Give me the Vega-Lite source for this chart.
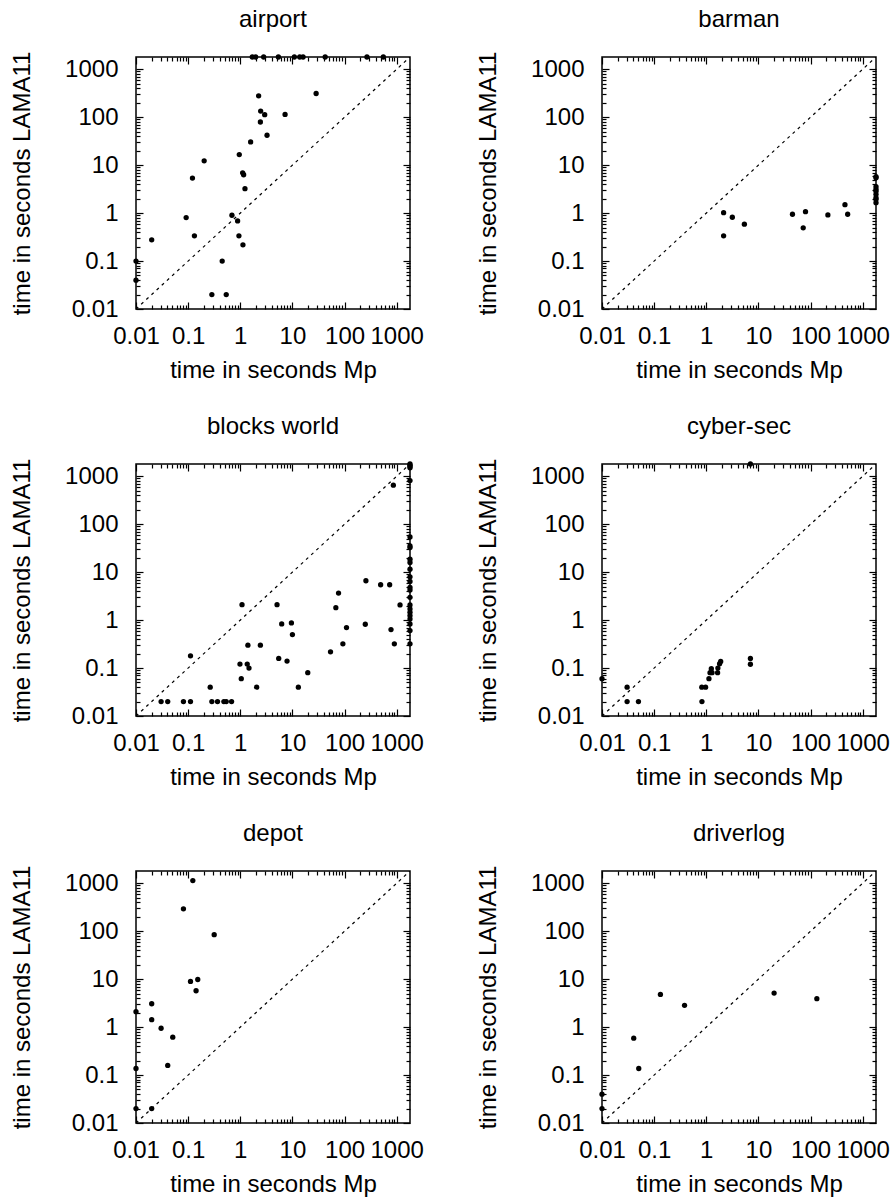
{
  "$schema": "https://vega.github.io/schema/vega-lite/v6.json",
  "background": "white",
  "padding": {"left": 9, "top": 7, "right": 5, "bottom": 5},
  "config": {
    "font": "Liberation Sans",
    "view": {"stroke": "black", "strokeWidth": 1.5},
    "axis": {"labelFont": "Liberation Sans", "titleFont": "Liberation Sans", "labelFontSize": 24, "titleFontSize": 24, "titleFontWeight": "normal", "labelColor": "black", "titleColor": "black", "tickColor": "black", "tickWidth": 1.2, "domain": false, "grid": false, "labelOverlap": false, "labelFlush": false, "labelBound": false},
    "title": {"font": "Liberation Sans", "fontSize": 24, "fontWeight": "normal", "color": "black", "offset": 19}
  },
  "datasets": {
    "diag": [{"v": 0.01}, {"v": 1800}],
    "pts": [
      {"d": "airport", "mp": 1.70, "lama": 1800}, {"d": "airport", "mp": 1.97, "lama": 1800}, {"d": "airport", "mp": 2.81, "lama": 1800}, {"d": "airport", "mp": 5.38, "lama": 1800}, {"d": "airport", "mp": 10.9, "lama": 1800}, {"d": "airport", "mp": 13.8, "lama": 1800}, {"d": "airport", "mp": 16.0, "lama": 1800}, {"d": "airport", "mp": 42.5, "lama": 1800}, {"d": "airport", "mp": 269, "lama": 1800}, {"d": "airport", "mp": 554, "lama": 1800},
      {"d": "airport", "mp": 2.25, "lama": 279}, {"d": "airport", "mp": 28.5, "lama": 312}, {"d": "airport", "mp": 2.46, "lama": 134}, {"d": "airport", "mp": 2.94, "lama": 113}, {"d": "airport", "mp": 7.23, "lama": 114}, {"d": "airport", "mp": 2.43, "lama": 79.4}, {"d": "airport", "mp": 3.26, "lama": 42}, {"d": "airport", "mp": 1.58, "lama": 30.5}, {"d": "airport", "mp": 0.957, "lama": 16.6}, {"d": "airport", "mp": 0.203, "lama": 12.3}, {"d": "airport", "mp": 0.121, "lama": 5.37}, {"d": "airport", "mp": 1.11, "lama": 6.93}, {"d": "airport", "mp": 1.16, "lama": 6.3}, {"d": "airport", "mp": 1.23, "lama": 3.23}, {"d": "airport", "mp": 0.0916, "lama": 0.807}, {"d": "airport", "mp": 0.692, "lama": 0.902}, {"d": "airport", "mp": 0.889, "lama": 0.688}, {"d": "airport", "mp": 0.02, "lama": 0.277}, {"d": "airport", "mp": 0.132, "lama": 0.336}, {"d": "airport", "mp": 0.942, "lama": 0.336}, {"d": "airport", "mp": 1.125, "lama": 0.218}, {"d": "airport", "mp": 0.01, "lama": 0.1}, {"d": "airport", "mp": 0.01, "lama": 0.04}, {"d": "airport", "mp": 0.45, "lama": 0.1}, {"d": "airport", "mp": 0.285, "lama": 0.02}, {"d": "airport", "mp": 0.538, "lama": 0.02},
      {"d": "barman", "mp": 2.15, "lama": 1.02}, {"d": "barman", "mp": 2.15, "lama": 0.336}, {"d": "barman", "mp": 3.16, "lama": 0.819}, {"d": "barman", "mp": 5.38, "lama": 0.587}, {"d": "barman", "mp": 45, "lama": 0.946}, {"d": "barman", "mp": 80, "lama": 1.07}, {"d": "barman", "mp": 72.3, "lama": 0.492}, {"d": "barman", "mp": 215, "lama": 0.916}, {"d": "barman", "mp": 457, "lama": 1.5}, {"d": "barman", "mp": 515, "lama": 0.946},
      {"d": "barman", "mp": 1800, "lama": 5.73}, {"d": "barman", "mp": 1800, "lama": 5.46}, {"d": "barman", "mp": 1800, "lama": 3.55}, {"d": "barman", "mp": 1800, "lama": 3.13}, {"d": "barman", "mp": 1800, "lama": 2.84}, {"d": "barman", "mp": 1800, "lama": 2.46}, {"d": "barman", "mp": 1800, "lama": 2.1}, {"d": "barman", "mp": 1800, "lama": 1.94}, {"d": "barman", "mp": 1800, "lama": 1.65},
      {"d": "blocks world", "mp": 0.0303, "lama": 0.02}, {"d": "blocks world", "mp": 0.0406, "lama": 0.02}, {"d": "blocks world", "mp": 0.0813, "lama": 0.02}, {"d": "blocks world", "mp": 0.111, "lama": 0.02}, {"d": "blocks world", "mp": 0.285, "lama": 0.02}, {"d": "blocks world", "mp": 0.366, "lama": 0.02}, {"d": "blocks world", "mp": 0.485, "lama": 0.02}, {"d": "blocks world", "mp": 0.538, "lama": 0.02}, {"d": "blocks world", "mp": 0.681, "lama": 0.02},
      {"d": "blocks world", "mp": 0.265, "lama": 0.04}, {"d": "blocks world", "mp": 0.111, "lama": 0.18}, {"d": "blocks world", "mp": 1.045, "lama": 0.06}, {"d": "blocks world", "mp": 0.986, "lama": 0.121}, {"d": "blocks world", "mp": 1.36, "lama": 0.121}, {"d": "blocks world", "mp": 1.47, "lama": 0.1}, {"d": "blocks world", "mp": 2.06, "lama": 0.04}, {"d": "blocks world", "mp": 13, "lama": 0.04}, {"d": "blocks world", "mp": 19.7, "lama": 0.08}, {"d": "blocks world", "mp": 1.4, "lama": 0.3}, {"d": "blocks world", "mp": 2.43, "lama": 0.3}, {"d": "blocks world", "mp": 1.08, "lama": 2.1}, {"d": "blocks world", "mp": 5.07, "lama": 2.1}, {"d": "blocks world", "mp": 6.23, "lama": 0.832}, {"d": "blocks world", "mp": 9.57, "lama": 0.874}, {"d": "blocks world", "mp": 10, "lama": 0.5}, {"d": "blocks world", "mp": 5.46, "lama": 0.159}, {"d": "blocks world", "mp": 7.89, "lama": 0.14}, {"d": "blocks world", "mp": 53.8, "lama": 0.218}, {"d": "blocks world", "mp": 92.9, "lama": 0.32}, {"d": "blocks world", "mp": 109, "lama": 0.699}, {"d": "blocks world", "mp": 68.1, "lama": 1.82}, {"d": "blocks world", "mp": 76.7, "lama": 3.66}, {"d": "blocks world", "mp": 250, "lama": 0.819}, {"d": "blocks world", "mp": 257, "lama": 6.61}, {"d": "blocks world", "mp": 492, "lama": 5.46}, {"d": "blocks world", "mp": 733, "lama": 5.46}, {"d": "blocks world", "mp": 778, "lama": 0.635}, {"d": "blocks world", "mp": 902, "lama": 0.32}, {"d": "blocks world", "mp": 1159, "lama": 2.07}, {"d": "blocks world", "mp": 863, "lama": 650},
      {"d": "blocks world", "mp": 1800, "lama": 1800}, {"d": "blocks world", "mp": 1800, "lama": 1700}, {"d": "blocks world", "mp": 1800, "lama": 1600}, {"d": "blocks world", "mp": 1800, "lama": 1500}, {"d": "blocks world", "mp": 1800, "lama": 813}, {"d": "blocks world", "mp": 1800, "lama": 54.2}, {"d": "blocks world", "mp": 1800, "lama": 35.2}, {"d": "blocks world", "mp": 1800, "lama": 32.5}, {"d": "blocks world", "mp": 1800, "lama": 18.6}, {"d": "blocks world", "mp": 1800, "lama": 15.9}, {"d": "blocks world", "mp": 1800, "lama": 11.5}, {"d": "blocks world", "mp": 1800, "lama": 8.0}, {"d": "blocks world", "mp": 1800, "lama": 6.4}, {"d": "blocks world", "mp": 1800, "lama": 4.81}, {"d": "blocks world", "mp": 1800, "lama": 4.23}, {"d": "blocks world", "mp": 1800, "lama": 2.98}, {"d": "blocks world", "mp": 1800, "lama": 2.07}, {"d": "blocks world", "mp": 1800, "lama": 1.71}, {"d": "blocks world", "mp": 1800, "lama": 1.45}, {"d": "blocks world", "mp": 1800, "lama": 1.24}, {"d": "blocks world", "mp": 1800, "lama": 1.06}, {"d": "blocks world", "mp": 1800, "lama": 0.83}, {"d": "blocks world", "mp": 1800, "lama": 0.605}, {"d": "blocks world", "mp": 1800, "lama": 0.32},
      {"d": "cyber-sec", "mp": 7.02, "lama": 1800}, {"d": "cyber-sec", "mp": 0.01, "lama": 0.06}, {"d": "cyber-sec", "mp": 0.0303, "lama": 0.04}, {"d": "cyber-sec", "mp": 0.0303, "lama": 0.02}, {"d": "cyber-sec", "mp": 0.05, "lama": 0.02}, {"d": "cyber-sec", "mp": 0.826, "lama": 0.02}, {"d": "cyber-sec", "mp": 0.82, "lama": 0.04}, {"d": "cyber-sec", "mp": 0.971, "lama": 0.04}, {"d": "cyber-sec", "mp": 1.125, "lama": 0.06}, {"d": "cyber-sec", "mp": 1.18, "lama": 0.08}, {"d": "cyber-sec", "mp": 1.25, "lama": 0.097}, {"d": "cyber-sec", "mp": 1.29, "lama": 0.08}, {"d": "cyber-sec", "mp": 1.65, "lama": 0.08}, {"d": "cyber-sec", "mp": 1.67, "lama": 0.1}, {"d": "cyber-sec", "mp": 1.8, "lama": 0.123}, {"d": "cyber-sec", "mp": 1.89, "lama": 0.137}, {"d": "cyber-sec", "mp": 7.02, "lama": 0.12}, {"d": "cyber-sec", "mp": 7.02, "lama": 0.159},
      {"d": "depot", "mp": 0.01, "lama": 0.02}, {"d": "depot", "mp": 0.02, "lama": 0.02}, {"d": "depot", "mp": 0.01, "lama": 0.137}, {"d": "depot", "mp": 0.0406, "lama": 0.159}, {"d": "depot", "mp": 0.01, "lama": 2.1}, {"d": "depot", "mp": 0.02, "lama": 3.07}, {"d": "depot", "mp": 0.02, "lama": 1.43}, {"d": "depot", "mp": 0.0303, "lama": 0.946}, {"d": "depot", "mp": 0.0507, "lama": 0.615}, {"d": "depot", "mp": 0.111, "lama": 8.95}, {"d": "depot", "mp": 0.153, "lama": 9.84}, {"d": "depot", "mp": 0.142, "lama": 5.73}, {"d": "depot", "mp": 0.316, "lama": 84.6}, {"d": "depot", "mp": 0.0813, "lama": 293}, {"d": "depot", "mp": 0.123, "lama": 1136},
      {"d": "driverlog", "mp": 0.01, "lama": 0.02}, {"d": "driverlog", "mp": 0.01, "lama": 0.04}, {"d": "driverlog", "mp": 0.0406, "lama": 0.587}, {"d": "driverlog", "mp": 0.0507, "lama": 0.137}, {"d": "driverlog", "mp": 0.132, "lama": 4.81}, {"d": "driverlog", "mp": 0.383, "lama": 2.84}, {"d": "driverlog", "mp": 20, "lama": 5.12}, {"d": "driverlog", "mp": 132, "lama": 3.91}
    ]
  },
  "columns": 2,
  "spacing": {"row": 31, "column": 50},
  "concat": [
    {"title": "airport", "width": 274, "height": 252, "resolve": {"axis": {"x": "independent", "y": "independent"}},
     "layer": [
      {"data": {"name": "pts"}, "transform": [{"filter": "datum.d == 'airport'"}], "mark": {"type": "circle", "size": 28, "opacity": 1, "color": "black", "clip": false},
       "encoding": {
        "x": {"field": "mp", "type": "quantitative", "scale": {"type": "log", "domain": [0.01, 1800], "nice": false}, "axis": {"orient": "bottom", "title": "time in seconds Mp", "values": [0.01,0.1,1,10,100,1000], "labelExpr": "datum.value + ''", "ticks": false, "labelPadding": 15, "titlePadding": 10}},
        "y": {"field": "lama", "type": "quantitative", "scale": {"type": "log", "domain": [0.01, 1800], "nice": false}, "axis": {"orient": "left", "title": "time in seconds LAMA11", "values": [0.01,0.1,1,10,100,1000], "labelExpr": "datum.value + ''", "ticks": false, "labelPadding": 18, "titlePadding": 30}}
       }},
      {"data": {"name": "diag"}, "mark": {"type": "line", "color": "black", "strokeWidth": 1.2, "strokeDash": [3, 4], "clip": true},
       "encoding": {
        "x": {"field": "v", "type": "quantitative", "scale": {"type": "log", "domain": [0.01, 1800], "nice": false}, "axis": {"orient": "bottom", "title": null, "labels": false, "values": [0.01,0.1,1,10,100,1000], "tickSize": 7, "offset": -7}},
        "y": {"field": "v", "type": "quantitative", "scale": {"type": "log", "domain": [0.01, 1800], "nice": false}, "axis": {"orient": "left", "title": null, "labels": false, "values": [0.01,0.1,1,10,100,1000], "tickSize": 7, "offset": -7}}
       }},
      {"data": {"name": "diag"}, "mark": {"type": "line", "opacity": 0},
       "encoding": {
        "x": {"field": "v", "type": "quantitative", "scale": {"type": "log", "domain": [0.01, 1800], "nice": false}, "axis": {"orient": "top", "title": null, "labels": false, "values": [0.01,0.1,1,10,100,1000], "tickSize": 7, "offset": -7}},
        "y": {"field": "v", "type": "quantitative", "scale": {"type": "log", "domain": [0.01, 1800], "nice": false}, "axis": {"orient": "right", "title": null, "labels": false, "values": [0.01,0.1,1,10,100,1000], "tickSize": 7, "offset": -7}}
       }},
      {"data": {"name": "diag"}, "mark": {"type": "line", "opacity": 0},
       "encoding": {
        "x": {"field": "v", "type": "quantitative", "scale": {"type": "log", "domain": [0.01, 1800], "nice": false}, "axis": {"orient": "bottom", "title": null, "labels": false, "values": [0.02,0.03,0.04,0.05,0.06,0.07,0.08,0.09,0.2,0.3,0.4,0.5,0.6,0.7,0.8,0.9,2,3,4,5,6,7,8,9,20,30,40,50,60,70,80,90,200,300,400,500,600,700,800,900], "tickSize": 4, "offset": -4}},
        "y": {"field": "v", "type": "quantitative", "scale": {"type": "log", "domain": [0.01, 1800], "nice": false}, "axis": {"orient": "left", "title": null, "labels": false, "values": [0.02,0.03,0.04,0.05,0.06,0.07,0.08,0.09,0.2,0.3,0.4,0.5,0.6,0.7,0.8,0.9,2,3,4,5,6,7,8,9,20,30,40,50,60,70,80,90,200,300,400,500,600,700,800,900], "tickSize": 4, "offset": -4}}
       }},
      {"data": {"name": "diag"}, "mark": {"type": "line", "opacity": 0},
       "encoding": {
        "x": {"field": "v", "type": "quantitative", "scale": {"type": "log", "domain": [0.01, 1800], "nice": false}, "axis": {"orient": "top", "title": null, "labels": false, "values": [0.02,0.03,0.04,0.05,0.06,0.07,0.08,0.09,0.2,0.3,0.4,0.5,0.6,0.7,0.8,0.9,2,3,4,5,6,7,8,9,20,30,40,50,60,70,80,90,200,300,400,500,600,700,800,900], "tickSize": 4, "offset": -4}},
        "y": {"field": "v", "type": "quantitative", "scale": {"type": "log", "domain": [0.01, 1800], "nice": false}, "axis": {"orient": "right", "title": null, "labels": false, "values": [0.02,0.03,0.04,0.05,0.06,0.07,0.08,0.09,0.2,0.3,0.4,0.5,0.6,0.7,0.8,0.9,2,3,4,5,6,7,8,9,20,30,40,50,60,70,80,90,200,300,400,500,600,700,800,900], "tickSize": 4, "offset": -4}}
       }}
     ]},
    {"title": "barman", "width": 274, "height": 252, "resolve": {"axis": {"x": "independent", "y": "independent"}},
     "layer": [
      {"data": {"name": "pts"}, "transform": [{"filter": "datum.d == 'barman'"}], "mark": {"type": "circle", "size": 28, "opacity": 1, "color": "black", "clip": false},
       "encoding": {
        "x": {"field": "mp", "type": "quantitative", "scale": {"type": "log", "domain": [0.01, 1800], "nice": false}, "axis": {"orient": "bottom", "title": "time in seconds Mp", "values": [0.01,0.1,1,10,100,1000], "labelExpr": "datum.value + ''", "ticks": false, "labelPadding": 15, "titlePadding": 10}},
        "y": {"field": "lama", "type": "quantitative", "scale": {"type": "log", "domain": [0.01, 1800], "nice": false}, "axis": {"orient": "left", "title": "time in seconds LAMA11", "values": [0.01,0.1,1,10,100,1000], "labelExpr": "datum.value + ''", "ticks": false, "labelPadding": 18, "titlePadding": 30}}
       }},
      {"data": {"name": "diag"}, "mark": {"type": "line", "color": "black", "strokeWidth": 1.2, "strokeDash": [3, 4], "clip": true},
       "encoding": {
        "x": {"field": "v", "type": "quantitative", "scale": {"type": "log", "domain": [0.01, 1800], "nice": false}, "axis": {"orient": "bottom", "title": null, "labels": false, "values": [0.01,0.1,1,10,100,1000], "tickSize": 7, "offset": -7}},
        "y": {"field": "v", "type": "quantitative", "scale": {"type": "log", "domain": [0.01, 1800], "nice": false}, "axis": {"orient": "left", "title": null, "labels": false, "values": [0.01,0.1,1,10,100,1000], "tickSize": 7, "offset": -7}}
       }},
      {"data": {"name": "diag"}, "mark": {"type": "line", "opacity": 0},
       "encoding": {
        "x": {"field": "v", "type": "quantitative", "scale": {"type": "log", "domain": [0.01, 1800], "nice": false}, "axis": {"orient": "top", "title": null, "labels": false, "values": [0.01,0.1,1,10,100,1000], "tickSize": 7, "offset": -7}},
        "y": {"field": "v", "type": "quantitative", "scale": {"type": "log", "domain": [0.01, 1800], "nice": false}, "axis": {"orient": "right", "title": null, "labels": false, "values": [0.01,0.1,1,10,100,1000], "tickSize": 7, "offset": -7}}
       }},
      {"data": {"name": "diag"}, "mark": {"type": "line", "opacity": 0},
       "encoding": {
        "x": {"field": "v", "type": "quantitative", "scale": {"type": "log", "domain": [0.01, 1800], "nice": false}, "axis": {"orient": "bottom", "title": null, "labels": false, "values": [0.02,0.03,0.04,0.05,0.06,0.07,0.08,0.09,0.2,0.3,0.4,0.5,0.6,0.7,0.8,0.9,2,3,4,5,6,7,8,9,20,30,40,50,60,70,80,90,200,300,400,500,600,700,800,900], "tickSize": 4, "offset": -4}},
        "y": {"field": "v", "type": "quantitative", "scale": {"type": "log", "domain": [0.01, 1800], "nice": false}, "axis": {"orient": "left", "title": null, "labels": false, "values": [0.02,0.03,0.04,0.05,0.06,0.07,0.08,0.09,0.2,0.3,0.4,0.5,0.6,0.7,0.8,0.9,2,3,4,5,6,7,8,9,20,30,40,50,60,70,80,90,200,300,400,500,600,700,800,900], "tickSize": 4, "offset": -4}}
       }},
      {"data": {"name": "diag"}, "mark": {"type": "line", "opacity": 0},
       "encoding": {
        "x": {"field": "v", "type": "quantitative", "scale": {"type": "log", "domain": [0.01, 1800], "nice": false}, "axis": {"orient": "top", "title": null, "labels": false, "values": [0.02,0.03,0.04,0.05,0.06,0.07,0.08,0.09,0.2,0.3,0.4,0.5,0.6,0.7,0.8,0.9,2,3,4,5,6,7,8,9,20,30,40,50,60,70,80,90,200,300,400,500,600,700,800,900], "tickSize": 4, "offset": -4}},
        "y": {"field": "v", "type": "quantitative", "scale": {"type": "log", "domain": [0.01, 1800], "nice": false}, "axis": {"orient": "right", "title": null, "labels": false, "values": [0.02,0.03,0.04,0.05,0.06,0.07,0.08,0.09,0.2,0.3,0.4,0.5,0.6,0.7,0.8,0.9,2,3,4,5,6,7,8,9,20,30,40,50,60,70,80,90,200,300,400,500,600,700,800,900], "tickSize": 4, "offset": -4}}
       }}
     ]},
    {"title": "blocks world", "width": 274, "height": 252, "resolve": {"axis": {"x": "independent", "y": "independent"}},
     "layer": [
      {"data": {"name": "pts"}, "transform": [{"filter": "datum.d == 'blocks world'"}], "mark": {"type": "circle", "size": 28, "opacity": 1, "color": "black", "clip": false},
       "encoding": {
        "x": {"field": "mp", "type": "quantitative", "scale": {"type": "log", "domain": [0.01, 1800], "nice": false}, "axis": {"orient": "bottom", "title": "time in seconds Mp", "values": [0.01,0.1,1,10,100,1000], "labelExpr": "datum.value + ''", "ticks": false, "labelPadding": 15, "titlePadding": 10}},
        "y": {"field": "lama", "type": "quantitative", "scale": {"type": "log", "domain": [0.01, 1800], "nice": false}, "axis": {"orient": "left", "title": "time in seconds LAMA11", "values": [0.01,0.1,1,10,100,1000], "labelExpr": "datum.value + ''", "ticks": false, "labelPadding": 18, "titlePadding": 30}}
       }},
      {"data": {"name": "diag"}, "mark": {"type": "line", "color": "black", "strokeWidth": 1.2, "strokeDash": [3, 4], "clip": true},
       "encoding": {
        "x": {"field": "v", "type": "quantitative", "scale": {"type": "log", "domain": [0.01, 1800], "nice": false}, "axis": {"orient": "bottom", "title": null, "labels": false, "values": [0.01,0.1,1,10,100,1000], "tickSize": 7, "offset": -7}},
        "y": {"field": "v", "type": "quantitative", "scale": {"type": "log", "domain": [0.01, 1800], "nice": false}, "axis": {"orient": "left", "title": null, "labels": false, "values": [0.01,0.1,1,10,100,1000], "tickSize": 7, "offset": -7}}
       }},
      {"data": {"name": "diag"}, "mark": {"type": "line", "opacity": 0},
       "encoding": {
        "x": {"field": "v", "type": "quantitative", "scale": {"type": "log", "domain": [0.01, 1800], "nice": false}, "axis": {"orient": "top", "title": null, "labels": false, "values": [0.01,0.1,1,10,100,1000], "tickSize": 7, "offset": -7}},
        "y": {"field": "v", "type": "quantitative", "scale": {"type": "log", "domain": [0.01, 1800], "nice": false}, "axis": {"orient": "right", "title": null, "labels": false, "values": [0.01,0.1,1,10,100,1000], "tickSize": 7, "offset": -7}}
       }},
      {"data": {"name": "diag"}, "mark": {"type": "line", "opacity": 0},
       "encoding": {
        "x": {"field": "v", "type": "quantitative", "scale": {"type": "log", "domain": [0.01, 1800], "nice": false}, "axis": {"orient": "bottom", "title": null, "labels": false, "values": [0.02,0.03,0.04,0.05,0.06,0.07,0.08,0.09,0.2,0.3,0.4,0.5,0.6,0.7,0.8,0.9,2,3,4,5,6,7,8,9,20,30,40,50,60,70,80,90,200,300,400,500,600,700,800,900], "tickSize": 4, "offset": -4}},
        "y": {"field": "v", "type": "quantitative", "scale": {"type": "log", "domain": [0.01, 1800], "nice": false}, "axis": {"orient": "left", "title": null, "labels": false, "values": [0.02,0.03,0.04,0.05,0.06,0.07,0.08,0.09,0.2,0.3,0.4,0.5,0.6,0.7,0.8,0.9,2,3,4,5,6,7,8,9,20,30,40,50,60,70,80,90,200,300,400,500,600,700,800,900], "tickSize": 4, "offset": -4}}
       }},
      {"data": {"name": "diag"}, "mark": {"type": "line", "opacity": 0},
       "encoding": {
        "x": {"field": "v", "type": "quantitative", "scale": {"type": "log", "domain": [0.01, 1800], "nice": false}, "axis": {"orient": "top", "title": null, "labels": false, "values": [0.02,0.03,0.04,0.05,0.06,0.07,0.08,0.09,0.2,0.3,0.4,0.5,0.6,0.7,0.8,0.9,2,3,4,5,6,7,8,9,20,30,40,50,60,70,80,90,200,300,400,500,600,700,800,900], "tickSize": 4, "offset": -4}},
        "y": {"field": "v", "type": "quantitative", "scale": {"type": "log", "domain": [0.01, 1800], "nice": false}, "axis": {"orient": "right", "title": null, "labels": false, "values": [0.02,0.03,0.04,0.05,0.06,0.07,0.08,0.09,0.2,0.3,0.4,0.5,0.6,0.7,0.8,0.9,2,3,4,5,6,7,8,9,20,30,40,50,60,70,80,90,200,300,400,500,600,700,800,900], "tickSize": 4, "offset": -4}}
       }}
     ]},
    {"title": "cyber-sec", "width": 274, "height": 252, "resolve": {"axis": {"x": "independent", "y": "independent"}},
     "layer": [
      {"data": {"name": "pts"}, "transform": [{"filter": "datum.d == 'cyber-sec'"}], "mark": {"type": "circle", "size": 28, "opacity": 1, "color": "black", "clip": false},
       "encoding": {
        "x": {"field": "mp", "type": "quantitative", "scale": {"type": "log", "domain": [0.01, 1800], "nice": false}, "axis": {"orient": "bottom", "title": "time in seconds Mp", "values": [0.01,0.1,1,10,100,1000], "labelExpr": "datum.value + ''", "ticks": false, "labelPadding": 15, "titlePadding": 10}},
        "y": {"field": "lama", "type": "quantitative", "scale": {"type": "log", "domain": [0.01, 1800], "nice": false}, "axis": {"orient": "left", "title": "time in seconds LAMA11", "values": [0.01,0.1,1,10,100,1000], "labelExpr": "datum.value + ''", "ticks": false, "labelPadding": 18, "titlePadding": 30}}
       }},
      {"data": {"name": "diag"}, "mark": {"type": "line", "color": "black", "strokeWidth": 1.2, "strokeDash": [3, 4], "clip": true},
       "encoding": {
        "x": {"field": "v", "type": "quantitative", "scale": {"type": "log", "domain": [0.01, 1800], "nice": false}, "axis": {"orient": "bottom", "title": null, "labels": false, "values": [0.01,0.1,1,10,100,1000], "tickSize": 7, "offset": -7}},
        "y": {"field": "v", "type": "quantitative", "scale": {"type": "log", "domain": [0.01, 1800], "nice": false}, "axis": {"orient": "left", "title": null, "labels": false, "values": [0.01,0.1,1,10,100,1000], "tickSize": 7, "offset": -7}}
       }},
      {"data": {"name": "diag"}, "mark": {"type": "line", "opacity": 0},
       "encoding": {
        "x": {"field": "v", "type": "quantitative", "scale": {"type": "log", "domain": [0.01, 1800], "nice": false}, "axis": {"orient": "top", "title": null, "labels": false, "values": [0.01,0.1,1,10,100,1000], "tickSize": 7, "offset": -7}},
        "y": {"field": "v", "type": "quantitative", "scale": {"type": "log", "domain": [0.01, 1800], "nice": false}, "axis": {"orient": "right", "title": null, "labels": false, "values": [0.01,0.1,1,10,100,1000], "tickSize": 7, "offset": -7}}
       }},
      {"data": {"name": "diag"}, "mark": {"type": "line", "opacity": 0},
       "encoding": {
        "x": {"field": "v", "type": "quantitative", "scale": {"type": "log", "domain": [0.01, 1800], "nice": false}, "axis": {"orient": "bottom", "title": null, "labels": false, "values": [0.02,0.03,0.04,0.05,0.06,0.07,0.08,0.09,0.2,0.3,0.4,0.5,0.6,0.7,0.8,0.9,2,3,4,5,6,7,8,9,20,30,40,50,60,70,80,90,200,300,400,500,600,700,800,900], "tickSize": 4, "offset": -4}},
        "y": {"field": "v", "type": "quantitative", "scale": {"type": "log", "domain": [0.01, 1800], "nice": false}, "axis": {"orient": "left", "title": null, "labels": false, "values": [0.02,0.03,0.04,0.05,0.06,0.07,0.08,0.09,0.2,0.3,0.4,0.5,0.6,0.7,0.8,0.9,2,3,4,5,6,7,8,9,20,30,40,50,60,70,80,90,200,300,400,500,600,700,800,900], "tickSize": 4, "offset": -4}}
       }},
      {"data": {"name": "diag"}, "mark": {"type": "line", "opacity": 0},
       "encoding": {
        "x": {"field": "v", "type": "quantitative", "scale": {"type": "log", "domain": [0.01, 1800], "nice": false}, "axis": {"orient": "top", "title": null, "labels": false, "values": [0.02,0.03,0.04,0.05,0.06,0.07,0.08,0.09,0.2,0.3,0.4,0.5,0.6,0.7,0.8,0.9,2,3,4,5,6,7,8,9,20,30,40,50,60,70,80,90,200,300,400,500,600,700,800,900], "tickSize": 4, "offset": -4}},
        "y": {"field": "v", "type": "quantitative", "scale": {"type": "log", "domain": [0.01, 1800], "nice": false}, "axis": {"orient": "right", "title": null, "labels": false, "values": [0.02,0.03,0.04,0.05,0.06,0.07,0.08,0.09,0.2,0.3,0.4,0.5,0.6,0.7,0.8,0.9,2,3,4,5,6,7,8,9,20,30,40,50,60,70,80,90,200,300,400,500,600,700,800,900], "tickSize": 4, "offset": -4}}
       }}
     ]},
    {"title": "depot", "width": 274, "height": 252, "resolve": {"axis": {"x": "independent", "y": "independent"}},
     "layer": [
      {"data": {"name": "pts"}, "transform": [{"filter": "datum.d == 'depot'"}], "mark": {"type": "circle", "size": 28, "opacity": 1, "color": "black", "clip": false},
       "encoding": {
        "x": {"field": "mp", "type": "quantitative", "scale": {"type": "log", "domain": [0.01, 1800], "nice": false}, "axis": {"orient": "bottom", "title": "time in seconds Mp", "values": [0.01,0.1,1,10,100,1000], "labelExpr": "datum.value + ''", "ticks": false, "labelPadding": 15, "titlePadding": 10}},
        "y": {"field": "lama", "type": "quantitative", "scale": {"type": "log", "domain": [0.01, 1800], "nice": false}, "axis": {"orient": "left", "title": "time in seconds LAMA11", "values": [0.01,0.1,1,10,100,1000], "labelExpr": "datum.value + ''", "ticks": false, "labelPadding": 18, "titlePadding": 30}}
       }},
      {"data": {"name": "diag"}, "mark": {"type": "line", "color": "black", "strokeWidth": 1.2, "strokeDash": [3, 4], "clip": true},
       "encoding": {
        "x": {"field": "v", "type": "quantitative", "scale": {"type": "log", "domain": [0.01, 1800], "nice": false}, "axis": {"orient": "bottom", "title": null, "labels": false, "values": [0.01,0.1,1,10,100,1000], "tickSize": 7, "offset": -7}},
        "y": {"field": "v", "type": "quantitative", "scale": {"type": "log", "domain": [0.01, 1800], "nice": false}, "axis": {"orient": "left", "title": null, "labels": false, "values": [0.01,0.1,1,10,100,1000], "tickSize": 7, "offset": -7}}
       }},
      {"data": {"name": "diag"}, "mark": {"type": "line", "opacity": 0},
       "encoding": {
        "x": {"field": "v", "type": "quantitative", "scale": {"type": "log", "domain": [0.01, 1800], "nice": false}, "axis": {"orient": "top", "title": null, "labels": false, "values": [0.01,0.1,1,10,100,1000], "tickSize": 7, "offset": -7}},
        "y": {"field": "v", "type": "quantitative", "scale": {"type": "log", "domain": [0.01, 1800], "nice": false}, "axis": {"orient": "right", "title": null, "labels": false, "values": [0.01,0.1,1,10,100,1000], "tickSize": 7, "offset": -7}}
       }},
      {"data": {"name": "diag"}, "mark": {"type": "line", "opacity": 0},
       "encoding": {
        "x": {"field": "v", "type": "quantitative", "scale": {"type": "log", "domain": [0.01, 1800], "nice": false}, "axis": {"orient": "bottom", "title": null, "labels": false, "values": [0.02,0.03,0.04,0.05,0.06,0.07,0.08,0.09,0.2,0.3,0.4,0.5,0.6,0.7,0.8,0.9,2,3,4,5,6,7,8,9,20,30,40,50,60,70,80,90,200,300,400,500,600,700,800,900], "tickSize": 4, "offset": -4}},
        "y": {"field": "v", "type": "quantitative", "scale": {"type": "log", "domain": [0.01, 1800], "nice": false}, "axis": {"orient": "left", "title": null, "labels": false, "values": [0.02,0.03,0.04,0.05,0.06,0.07,0.08,0.09,0.2,0.3,0.4,0.5,0.6,0.7,0.8,0.9,2,3,4,5,6,7,8,9,20,30,40,50,60,70,80,90,200,300,400,500,600,700,800,900], "tickSize": 4, "offset": -4}}
       }},
      {"data": {"name": "diag"}, "mark": {"type": "line", "opacity": 0},
       "encoding": {
        "x": {"field": "v", "type": "quantitative", "scale": {"type": "log", "domain": [0.01, 1800], "nice": false}, "axis": {"orient": "top", "title": null, "labels": false, "values": [0.02,0.03,0.04,0.05,0.06,0.07,0.08,0.09,0.2,0.3,0.4,0.5,0.6,0.7,0.8,0.9,2,3,4,5,6,7,8,9,20,30,40,50,60,70,80,90,200,300,400,500,600,700,800,900], "tickSize": 4, "offset": -4}},
        "y": {"field": "v", "type": "quantitative", "scale": {"type": "log", "domain": [0.01, 1800], "nice": false}, "axis": {"orient": "right", "title": null, "labels": false, "values": [0.02,0.03,0.04,0.05,0.06,0.07,0.08,0.09,0.2,0.3,0.4,0.5,0.6,0.7,0.8,0.9,2,3,4,5,6,7,8,9,20,30,40,50,60,70,80,90,200,300,400,500,600,700,800,900], "tickSize": 4, "offset": -4}}
       }}
     ]},
    {"title": "driverlog", "width": 274, "height": 252, "resolve": {"axis": {"x": "independent", "y": "independent"}},
     "layer": [
      {"data": {"name": "pts"}, "transform": [{"filter": "datum.d == 'driverlog'"}], "mark": {"type": "circle", "size": 28, "opacity": 1, "color": "black", "clip": false},
       "encoding": {
        "x": {"field": "mp", "type": "quantitative", "scale": {"type": "log", "domain": [0.01, 1800], "nice": false}, "axis": {"orient": "bottom", "title": "time in seconds Mp", "values": [0.01,0.1,1,10,100,1000], "labelExpr": "datum.value + ''", "ticks": false, "labelPadding": 15, "titlePadding": 10}},
        "y": {"field": "lama", "type": "quantitative", "scale": {"type": "log", "domain": [0.01, 1800], "nice": false}, "axis": {"orient": "left", "title": "time in seconds LAMA11", "values": [0.01,0.1,1,10,100,1000], "labelExpr": "datum.value + ''", "ticks": false, "labelPadding": 18, "titlePadding": 30}}
       }},
      {"data": {"name": "diag"}, "mark": {"type": "line", "color": "black", "strokeWidth": 1.2, "strokeDash": [3, 4], "clip": true},
       "encoding": {
        "x": {"field": "v", "type": "quantitative", "scale": {"type": "log", "domain": [0.01, 1800], "nice": false}, "axis": {"orient": "bottom", "title": null, "labels": false, "values": [0.01,0.1,1,10,100,1000], "tickSize": 7, "offset": -7}},
        "y": {"field": "v", "type": "quantitative", "scale": {"type": "log", "domain": [0.01, 1800], "nice": false}, "axis": {"orient": "left", "title": null, "labels": false, "values": [0.01,0.1,1,10,100,1000], "tickSize": 7, "offset": -7}}
       }},
      {"data": {"name": "diag"}, "mark": {"type": "line", "opacity": 0},
       "encoding": {
        "x": {"field": "v", "type": "quantitative", "scale": {"type": "log", "domain": [0.01, 1800], "nice": false}, "axis": {"orient": "top", "title": null, "labels": false, "values": [0.01,0.1,1,10,100,1000], "tickSize": 7, "offset": -7}},
        "y": {"field": "v", "type": "quantitative", "scale": {"type": "log", "domain": [0.01, 1800], "nice": false}, "axis": {"orient": "right", "title": null, "labels": false, "values": [0.01,0.1,1,10,100,1000], "tickSize": 7, "offset": -7}}
       }},
      {"data": {"name": "diag"}, "mark": {"type": "line", "opacity": 0},
       "encoding": {
        "x": {"field": "v", "type": "quantitative", "scale": {"type": "log", "domain": [0.01, 1800], "nice": false}, "axis": {"orient": "bottom", "title": null, "labels": false, "values": [0.02,0.03,0.04,0.05,0.06,0.07,0.08,0.09,0.2,0.3,0.4,0.5,0.6,0.7,0.8,0.9,2,3,4,5,6,7,8,9,20,30,40,50,60,70,80,90,200,300,400,500,600,700,800,900], "tickSize": 4, "offset": -4}},
        "y": {"field": "v", "type": "quantitative", "scale": {"type": "log", "domain": [0.01, 1800], "nice": false}, "axis": {"orient": "left", "title": null, "labels": false, "values": [0.02,0.03,0.04,0.05,0.06,0.07,0.08,0.09,0.2,0.3,0.4,0.5,0.6,0.7,0.8,0.9,2,3,4,5,6,7,8,9,20,30,40,50,60,70,80,90,200,300,400,500,600,700,800,900], "tickSize": 4, "offset": -4}}
       }},
      {"data": {"name": "diag"}, "mark": {"type": "line", "opacity": 0},
       "encoding": {
        "x": {"field": "v", "type": "quantitative", "scale": {"type": "log", "domain": [0.01, 1800], "nice": false}, "axis": {"orient": "top", "title": null, "labels": false, "values": [0.02,0.03,0.04,0.05,0.06,0.07,0.08,0.09,0.2,0.3,0.4,0.5,0.6,0.7,0.8,0.9,2,3,4,5,6,7,8,9,20,30,40,50,60,70,80,90,200,300,400,500,600,700,800,900], "tickSize": 4, "offset": -4}},
        "y": {"field": "v", "type": "quantitative", "scale": {"type": "log", "domain": [0.01, 1800], "nice": false}, "axis": {"orient": "right", "title": null, "labels": false, "values": [0.02,0.03,0.04,0.05,0.06,0.07,0.08,0.09,0.2,0.3,0.4,0.5,0.6,0.7,0.8,0.9,2,3,4,5,6,7,8,9,20,30,40,50,60,70,80,90,200,300,400,500,600,700,800,900], "tickSize": 4, "offset": -4}}
       }}
     ]}
  ]
}
